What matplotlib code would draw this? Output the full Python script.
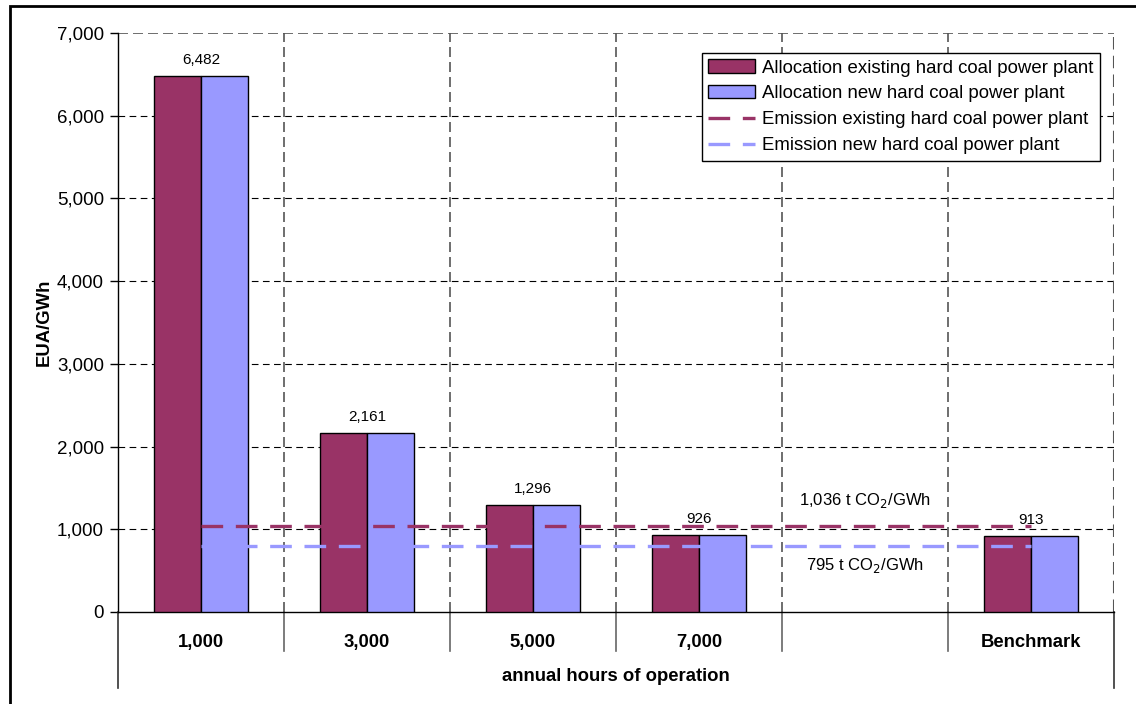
import numpy as np
import matplotlib.pyplot as plt
from matplotlib.patches import Rectangle
import matplotlib.transforms as mtransforms

# data
categories = ['1,000', '3,000', '5,000', '7,000', '', 'Benchmark']
alloc_existing = [6482, 2161, 1296, 926, np.nan, 913]
alloc_new = [6482, 2161, 1296, 926, np.nan, 913]
value_labels = ['6,482', '2,161', '1,296', '926', '', '913']
emission_existing = 1036
emission_new = 795

c_exist = '#993366'
c_new = '#9999FF'

plt.rcParams['font.family'] = ['Liberation Sans', 'DejaVu Sans']

fig = plt.figure(figsize=(11.36, 7.04), dpi=100)
ax = fig.add_axes([118/1136, 1 - 612/704, (1114 - 118)/1136, (612 - 33)/704])

x = np.arange(len(categories))
w = 0.286
b1 = ax.bar(x - w/2, alloc_existing, w, color=c_exist, edgecolor='black', linewidth=1,
            label='Allocation existing hard coal power plant', zorder=3)
b2 = ax.bar(x + w/2, alloc_new, w, color=c_new, edgecolor='black', linewidth=1,
            label='Allocation new hard coal power plant', zorder=3)

# emission lines from first to last category centre
l1, = ax.plot([x[0], x[-1]], [emission_existing]*2, color=c_exist, lw=2.4, dashes=(6.5, 3.8),
              label='Emission existing hard coal power plant', zorder=4)
l2, = ax.plot([x[0], x[-1]], [emission_new]*2, color=c_new, lw=2.4, dashes=(6.5, 3.8),
              label='Emission new hard coal power plant', zorder=4)

# value labels above bars
for i, v in enumerate(alloc_existing):
    if value_labels[i]:
        ax.text(x[i], v + 110, value_labels[i], ha='center', va='bottom', fontsize=11)

ax.text(4, 1354, '1,036 t CO$_2$/GWh', ha='center', va='center', fontsize=12)
ax.text(4, 568, '795 t CO$_2$/GWh', ha='center', va='center', fontsize=12)

ax.set_xlim(-0.5, len(categories) - 0.5)
ax.set_ylim(0, 7000)
ax.set_yticks(np.arange(0, 7001, 1000))
ax.set_yticklabels([f'{v:,}' for v in range(0, 7001, 1000)], fontsize=13.5)
ax.tick_params(axis='y', direction='out', length=6, width=1, pad=4)

# grid
for yv in range(1000, 7000, 1000):
    ax.axhline(yv, color='black', lw=0.8, dashes=(6, 4), zorder=1)
ax.axhline(7000, color='#555555', lw=1.2, dashes=(6, 3), zorder=1)
for xv in np.arange(0.5, len(categories) - 0.5, 1):
    ax.axvline(xv, color='#555555', lw=1.2, dashes=(6, 3), zorder=1)
ax.axvline(len(categories) - 0.5, color='#555555', lw=1.5, dashes=(6, 3), zorder=1)

for s in ['top', 'right']:
    ax.spines[s].set_visible(False)
ax.spines['left'].set_linewidth(1)
ax.spines['bottom'].set_linewidth(1)

# category axis
ax.set_xticks(x)
ax.set_xticklabels(categories, fontsize=13.3, fontweight='bold')
ax.tick_params(axis='x', length=0, pad=16)
trans = mtransforms.blended_transform_factory(ax.transData, ax.transAxes)
for xv in np.arange(-0.5, len(categories), 1):
    outer = xv in (-0.5, len(categories) - 0.5)
    ax.plot([xv, xv], [0, -0.131 if outer else -0.067], color='#333333' if outer else '#666666',
            lw=1.2, transform=trans, clip_on=False)

ax.set_xlabel('annual hours of operation', fontsize=13.3, fontweight='bold', labelpad=12)
ax.set_ylabel('EUA/GWh', fontsize=13.3, fontweight='bold', labelpad=3)

leg = ax.legend(handles=[b1, b2, l1, l2], loc='upper right', bbox_to_anchor=(0.986, 0.9655),
                fontsize=13.4, frameon=True, fancybox=False, edgecolor='black', framealpha=1,
                handlelength=2.5, handletextpad=0.4, borderpad=0.35, labelspacing=0.48,
                borderaxespad=0)
leg.get_frame().set_linewidth(1)

# outer frame
fig.patches.append(Rectangle((10/1136, -0.1), 1.2, 1 - 6/704 + 0.1, transform=fig.transFigure,
                             fill=False, edgecolor='black', lw=2))

fig.savefig('out.png', dpi=100)
